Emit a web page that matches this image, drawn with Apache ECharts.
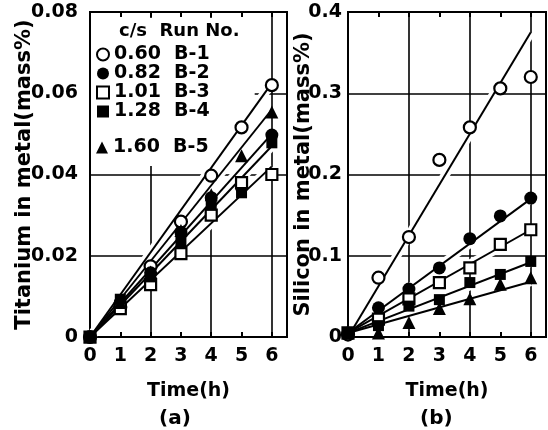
<!DOCTYPE html>
<html>
<head>
<meta charset="utf-8">
<script src="https://cdn.jsdelivr.net/npm/echarts@6/dist/echarts.min.js"></script>
<style>
html, body { margin: 0; padding: 0; background: #fff; }
#chart { width: 548px; height: 430px; }
</style>
</head>
<body>
<div id="chart"></div>
<script>
// time axis (h)
var hours = [0, 1, 2, 3, 4, 5, 6];
var runs = ['B-1', 'B-2', 'B-3', 'B-4', 'B-5'];
var csRatio = ['0.60', '0.82', '1.01', '1.28', '1.60'];

// (a) titanium in metal, mass%
var tiB1 = [0.0000, 0.0074, 0.0174, 0.0284, 0.0397, 0.0516, 0.0620];
var tiB2 = [0.0000, 0.0085, 0.0158, 0.0258, 0.0343, 0.0368, 0.0497];
var tiB3 = [0.0000, 0.0070, 0.0129, 0.0205, 0.0300, 0.0380, 0.0400];
var tiB4 = [0.0000, 0.0093, 0.0148, 0.0235, 0.0325, 0.0355, 0.0478];
var tiB5 = [0.0000, 0.0085, 0.0160, 0.0262, 0.0350, 0.0446, 0.0554];

// (b) silicon in metal, mass%
var siB1 = [0.003, 0.073, 0.123, 0.218, 0.258, 0.306, 0.320];
var siB2 = [0.005, 0.036, 0.059, 0.085, 0.121, 0.149, 0.171];
var siB3 = [0.005, 0.022, 0.047, 0.067, 0.085, 0.114, 0.132];
var siB4 = [0.005, 0.014, 0.038, 0.046, 0.067, 0.077, 0.093];
var siB5 = [0.005, 0.005, 0.018, 0.035, 0.047, 0.065, 0.073];

// drawn straight lines: value at 0 h and at 6 h
var fitHours = [0, 6];
var tiFitB1 = [0, 0.0625];
var tiFitB2 = [0, 0.0500];
var tiFitB3 = [0, 0.0420];
var tiFitB4 = [0, 0.0470];
var tiFitB5 = [0, 0.0560];
var siFitB1 = [0.000, 0.375];
var siFitB2 = [0.005, 0.170];
var siFitB3 = [0.005, 0.132];
var siFitB4 = [0.005, 0.092];
var siFitB5 = [0.005, 0.068];

// y ticks
var tiMax = 0.08, tiStep = 0.02;
var siMax = 0.4, siStep = 0.1;

var tiData = [tiB1, tiB2, tiB3, tiB4, tiB5];
var siData = [siB1, siB2, siB3, siB4, siB5];
var tiFit = [tiFitB1, tiFitB2, tiFitB3, tiFitB4, tiFitB5];
var siFit = [siFitB1, siFitB2, siFitB3, siFitB4, siFitB5];

var FONT = 'DejaVu Sans';
var marks = [
    { symbol: 'circle', size: 12, color: '#fff' },
    { symbol: 'circle', size: 13, color: '#000' },
    { symbol: 'rect', size: 11, color: '#fff' },
    { symbol: 'rect', size: 11, color: '#000' },
    { symbol: 'triangle', size: 13, color: '#000' }
];

function pairs(xs, ys) {
    return xs.map(function (x, i) { return [x, ys[i]]; });
}

function txt(size) {
    return { color: '#000', fontSize: size, fontFamily: FONT, fontWeight: 'bold' };
}

function xAxesFor(gi) {
    var lbl = txt(19);
    lbl.margin = 10;
    lbl.showMaxLabel = false;
    return [
        {
            gridIndex: gi, type: 'value', min: 0, max: 6.5, interval: 1, position: 'bottom',
            axisLine: { show: false },
            axisTick: { inside: true, length: 5, lineStyle: { color: '#000', width: 2 } },
            axisLabel: lbl,
            splitLine: { show: false },
            name: 'Time(h)', nameLocation: 'middle', nameGap: 45, nameMoveOverlap: false,
            nameTextStyle: txt(19)
        },
        {
            gridIndex: gi, type: 'value', min: 0, max: 6.5, interval: 1, position: 'top',
            axisLine: { show: false },
            axisTick: { inside: true, length: 5, lineStyle: { color: '#000', width: 2 } },
            axisLabel: { show: false },
            splitLine: { show: false }
        },
        {
            gridIndex: gi, type: 'value', min: 0, max: 6.5, interval: 2, position: 'bottom',
            axisLine: { show: false },
            axisTick: { show: false },
            axisLabel: { show: false },
            splitLine: { show: true, lineStyle: { color: '#000', width: 1.6 } }
        }
    ];
}

function yAxisFor(gi, max, step, name, margin, gap) {
    var lbl = txt(19);
    lbl.margin = margin;
    return {
        gridIndex: gi, type: 'value', min: 0, max: max, interval: step,
        axisLine: { show: false },
        axisTick: { show: false },
        axisLabel: lbl,
        splitLine: { show: true, lineStyle: { color: '#000', width: 1.6 } },
        name: name, nameLocation: 'middle', nameGap: gap, nameRotate: 90, nameMoveOverlap: false,
        nameTextStyle: txt(21)
    };
}

var series = [];
function addPanel(xi, yi, data, fit) {
    runs.forEach(function (run, i) {
        var m = marks[i];
        series.push({
            name: run, type: 'scatter', xAxisIndex: xi, yAxisIndex: yi, z: 7,
            symbol: m.symbol, symbolSize: m.size,
            itemStyle: { color: m.color, borderColor: '#000', borderWidth: m.color === '#fff' ? 2.2 : 0, opacity: 1 },
            data: pairs(hours, data[i])
        });
    });
    runs.forEach(function (run, i) {
        series.push({
            name: run + ' halo', type: 'line', xAxisIndex: xi, yAxisIndex: yi, z: 5,
            showSymbol: false, silent: true,
            lineStyle: { color: '#fff', width: 9 },
            data: pairs(fitHours, fit[i])
        });
        series.push({
            name: run + ' fit', type: 'line', xAxisIndex: xi, yAxisIndex: yi, z: 6,
            showSymbol: false, silent: true,
            lineStyle: { color: '#000', width: 2 },
            data: pairs(fitHours, fit[i])
        });
    });
}
addPanel(0, 0, tiData, tiFit);
addPanel(3, 1, siData, siFit);

var legendText = txt(19);
legendText.lineHeight = 19;
function legendLabel(name) {
    return csRatio[runs.indexOf(name)] + '  ' + name;
}

var chart = echarts.init(document.getElementById('chart'), null, { renderer: 'canvas' });
var option = {
    animation: false,
    backgroundColor: '#fff',
    textStyle: { fontFamily: FONT },
    title: [
        { text: 'c/s  Run No.', left: 119, top: 22, padding: 0, textStyle: txt(18) },
        { text: '(a)', left: 159, top: 409, padding: 0, textStyle: txt(20) },
        { text: '(b)', left: 420, top: 409, padding: 0, textStyle: txt(20) }
    ],
    legend: [
        {
            data: runs.slice(0, 4), orient: 'vertical', left: 91, top: 18,
            padding: [27, 45, 5, 5], itemGap: 0, itemWidth: 12, itemHeight: 12,
            backgroundColor: '#fff', selectedMode: false,
            textStyle: legendText, formatter: legendLabel
        },
        {
            data: runs.slice(4), orient: 'vertical', left: 91, top: 126,
            padding: [12, 45, 9, 5], itemGap: 0, itemWidth: 12, itemHeight: 12,
            backgroundColor: '#fff', selectedMode: false,
            textStyle: legendText, formatter: legendLabel
        }
    ],
    grid: [
        { left: 90, top: 12, width: 197, height: 325, show: true, borderColor: '#000', borderWidth: 2, outerBoundsMode: 'none' },
        { left: 348, top: 12, width: 198, height: 325, show: true, borderColor: '#000', borderWidth: 2, outerBoundsMode: 'none' }
    ],
    xAxis: xAxesFor(0).concat(xAxesFor(1)),
    yAxis: [
        yAxisFor(0, tiMax, tiStep, 'Titanium in metal(mass%)', 12, 55),
        yAxisFor(1, siMax, siStep, 'Silicon in metal(mass%)', 6, 34)
    ],
    series: series
};

if (option && typeof option === 'object') {
    chart.setOption(option);
}
</script>
</body>
</html>
